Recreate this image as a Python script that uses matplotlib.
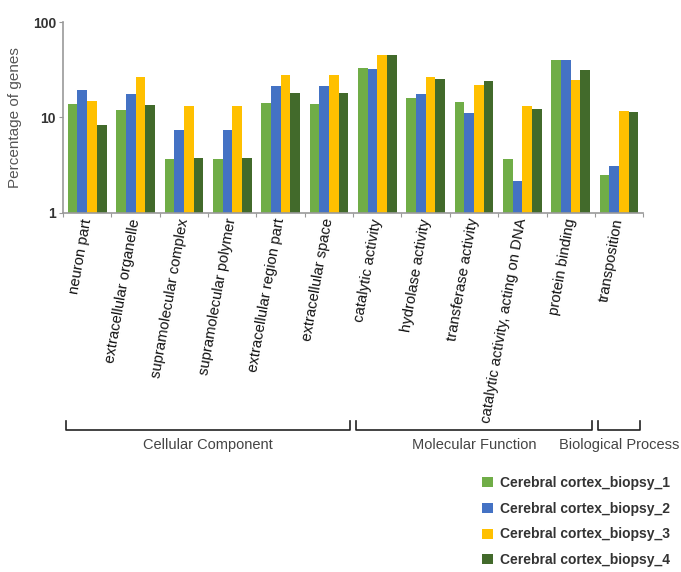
import numpy as np
import matplotlib.pyplot as plt

plt.rcParams['font.family'] = ['Liberation Sans', 'DejaVu Sans']

categories = ['neuron part', 'extracellular organelle', 'supramolecular complex',
              'supramolecular polymer', 'extracellular region part', 'extracellular space',
              'catalytic activity', 'hydrolase activity', 'transferase activity',
              'catalytic activity, acting on DNA', 'protein binding', 'transposition']

biopsy_1 = [13.7, 11.9, 3.67, 3.67, 14.3, 13.7, 33.2, 15.9, 14.4, 3.67, 40.0, 2.48]
biopsy_2 = [19.4, 17.5, 7.4, 7.4, 21.5, 21.5, 31.9, 17.5, 11.0, 2.18, 40.0, 3.08]
biopsy_3 = [14.9, 26.5, 13.2, 13.2, 28.1, 28.1, 44.8, 26.5, 21.7, 13.2, 24.9, 11.6]
biopsy_4 = [8.3, 13.5, 3.77, 3.77, 18.2, 18.2, 44.8, 25.1, 24.3, 12.2, 31.2, 11.3]

series_names = ['Cerebral cortex_biopsy_1', 'Cerebral cortex_biopsy_2',
                'Cerebral cortex_biopsy_3', 'Cerebral cortex_biopsy_4']
colors = ['#70ad47', '#4472c4', '#ffc000', '#426a2b']

# category groups: (label, first index, last index)
groups = [('Cellular Component', 0, 5),
          ('Molecular Function', 6, 10),
          ('Biological Process', 11, 11)]

fig = plt.figure(figsize=(6.81, 5.72), dpi=100)
ax = fig.add_axes([0.0925, 0.628, 0.852, 0.3335])

x = np.arange(len(categories))
w = 0.2
for i, vals in enumerate([biopsy_1, biopsy_2, biopsy_3, biopsy_4]):
    ax.bar(x + (i - 1.5) * w, vals, w, color=colors[i], label=series_names[i])

ax.set_yscale('log')
ax.set_ylim(1, 100)
ax.set_xlim(-0.5, len(categories) - 0.5)
ax.set_yticks([1, 10, 100])
ax.set_yticklabels(['1', '10', '100'], fontsize=10, fontweight='bold', color='#333333')
ax.yaxis.set_minor_locator(plt.NullLocator())
ax.tick_params(axis='y', length=3, color='#999999', pad=2)
ax.set_ylabel('Percentage of genes', fontsize=11, color='#555555')
ax.yaxis.set_label_coords(-0.07, 0.5)

# x ticks sit between groups, labels go under the group centres
ax.set_xticks(np.arange(len(categories) + 1) - 0.5)
ax.set_xticklabels([])
ax.tick_params(axis='x', length=3, color='#999999')
for xi, name in zip(x, categories):
    ax.text(xi, -0.03, name, rotation=80, rotation_mode='anchor',
            ha='right', va='center', fontsize=10.7, color='#111111',
            transform=ax.get_xaxis_transform())

for side in ['top', 'right']:
    ax.spines[side].set_visible(False)
for side in ['left', 'bottom']:
    ax.spines[side].set_color('#999999')
    ax.spines[side].set_linewidth(1.2)

# brackets under the category groups
def fig_x(data_x):
    disp = ax.transData.transform((data_x, 1))
    return fig.transFigure.inverted().transform(disp)[0]

y_line = 1 - 430 / 572
y_tick = 1 - 421 / 572
for label, a, b in groups:
    x0 = fig_x(a - 0.44)
    x1 = fig_x(b + 0.44)
    fig.add_artist(plt.Line2D([x0, x0, x1, x1], [y_tick, y_line, y_line, y_tick],
                              color='#222222', lw=1.2))
    fig.text((x0 + x1) / 2, 1 - 445 / 572, label, ha='center', va='center',
             fontsize=10.5, color='#444444')

handles, labels = ax.get_legend_handles_labels()
fig.legend(handles, labels, loc='upper left', bbox_to_anchor=(0.69, 0.19),
           frameon=False, handlelength=0.75, handleheight=0.75,
           handletextpad=0.5, labelspacing=0.85,
           prop={'weight': 'bold', 'size': 10})
for t in fig.legends[0].get_texts():
    t.set_color('#333333')

fig.savefig('out.png', dpi=100)
